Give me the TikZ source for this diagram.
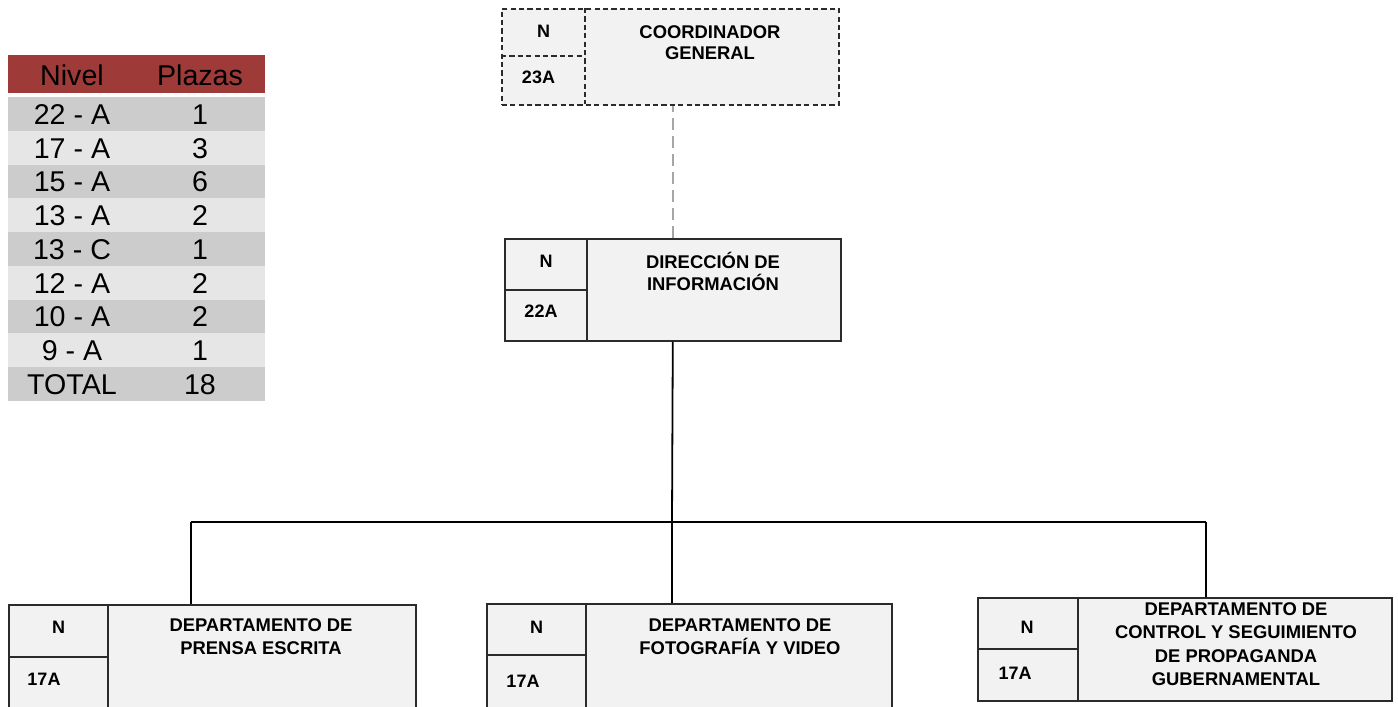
\documentclass[tikz,border=0pt]{standalone}
\usepackage{fontspec}
\setmainfont{Liberation Sans}
\definecolor{hdr}{HTML}{9E3A38}
\definecolor{rowd}{HTML}{CCCCCC}
\definecolor{rowl}{HTML}{E6E6E6}
\definecolor{boxfill}{HTML}{F2F2F2}
\definecolor{boxline}{HTML}{2B2B2B}
\definecolor{dashgray}{HTML}{A6A6A6}
\begin{document}
\begin{tikzpicture}[x=0.5pt,y=-0.5pt,
  box/.style={draw=boxline, fill=boxfill, line width=0.8pt, inner sep=0pt, anchor=north west, rectangle},
  dbox/.style={box, dash pattern=on 2.6pt off 1.6pt},
  divider/.style={draw=boxline, line width=0.8pt},
  ddivider/.style={divider, dash pattern=on 2.6pt off 1.6pt},
  lbl/.style={font=\bfseries\fontsize{9}{11}\selectfont, inner sep=0pt, anchor=base},
  ttl/.style={font=\bfseries\fontsize{9.2}{#1}\selectfont, inner sep=0pt, anchor=north, align=center},
  ttl/.default={11.75pt},
  tab/.style={font=\fontsize{14.3}{16}\selectfont, inner sep=0pt, anchor=base},
  conn/.style={draw=black, line width=0.9pt},
  dconn/.style={draw=dashgray, line width=0.9pt, dash pattern=on 6pt off 3pt}]
\useasboundingbox (0,0) rectangle (1398,707);

% ---------- table ----------
\fill[hdr] (8,55) rectangle (265,93);
\node[tab] (hN) at (72,85) {Nivel};
\node[tab] (hP) at (200,85) {Plazas};
\foreach \k/\a/\b in {0/22 - A/1,1/17 - A/3,2/15 - A/6,3/13 - A/2,4/13 - C/1,5/12 - A/2,6/10 - A/2,7/9 - A/1,8/TOTAL/18}{
  \pgfmathsetmacro{\yt}{97+33.75*\k}
  \pgfmathsetmacro{\yb}{97+33.75*(\k+1)}
  \pgfmathsetmacro{\ybase}{124.4+33.75*\k}
  \pgfmathparse{mod(\k,2)==0 ? 1 : 0}
  \ifnum\pgfmathresult=1
    \fill[rowd] (8,\yt) rectangle (265,\yb);
  \else
    \fill[rowl] (8,\yt) rectangle (265,\yb);
  \fi
  \node[tab] (n\k) at (72,\ybase) {\a};
  \node[tab] (p\k) at (200,\ybase) {\b};
}

% ---------- Coordinador general (dashed) ----------
\node[dbox, minimum width=168.5pt, minimum height=48pt] (coord) at (501,8) {};
\draw[ddivider] (585,8) -- (585,104);
\draw[ddivider] (501,56) -- (585,56);
\node[lbl] (coordN) at (543.5,37) {N};
\node[lbl] (coordL) at (538.5,83) {23A};
\node[ttl=10.5pt] (coordT) at (710,20) {\rule{0pt}{9pt}COORDINADOR\\GENERAL};

% ---------- Direccion de informacion ----------
\node[box, minimum width=168pt, minimum height=51pt] (dir) at (504,238) {};
\draw[divider] (587,238) -- (587,340);
\draw[divider] (504,290) -- (587,290);
\node[lbl] (dirN) at (546,267) {N};
\node[lbl] (dirL) at (541,317) {22A};
\node[ttl=11pt] (dirT) at (713,250) {\rule{0pt}{9pt}DIRECCIÓN DE\\INFORMACIÓN};

% ---------- Departamento prensa escrita ----------
\node[box, minimum width=203.5pt, minimum height=55pt] (d1) at (8,604) {};
\draw[divider] (108,604) -- (108,714);
\draw[divider] (8,657) -- (108,657);
\node[lbl] (d1N) at (58.5,633) {N};
\node[lbl] (d1L) at (44,685) {17A};
\node[ttl=11.75pt] (d1T) at (261,613) {\rule{0pt}{9pt}DEPARTAMENTO DE\\PRENSA ESCRITA};

% ---------- Departamento fotografia y video ----------
\node[box, minimum width=202.5pt, minimum height=55.5pt] (d2) at (486,603) {};
\draw[divider] (586,603) -- (586,714);
\draw[divider] (486,655) -- (586,655);
\node[lbl] (d2N) at (536.5,633) {N};
\node[lbl] (d2L) at (523,687) {17A};
\node[ttl=11.5pt] (d2T) at (740,613) {\rule{0pt}{9pt}DEPARTAMENTO DE\\FOTOGRAFÍA Y VIDEO};

% ---------- Departamento control y seguimiento ----------
\node[box, minimum width=207pt, minimum height=51.5pt] (d3) at (977,597) {};
\draw[divider] (1078,597) -- (1078,700);
\draw[divider] (977,649) -- (1078,649);
\node[lbl] (d3N) at (1027,633) {N};
\node[lbl] (d3L) at (1015,679) {17A};
\node[ttl=11.75pt] (d3T) at (1236,597) {\rule{0pt}{9pt}DEPARTAMENTO DE\\CONTROL Y SEGUIMIENTO\\DE PROPAGANDA\\GUBERNAMENTAL};

% ---------- connectors ----------
\coordinate (bus) at (672,522);
\coordinate (bl) at (191,522);
\coordinate (br) at (1206,522);
\draw[dconn] (dir.north) -- (dir.north |- coord.south);
\draw[conn] (dir.south) -- (bus);
\draw[conn] (bl) -- (br);
\draw[conn] (bl) -- (bl |- d1.north);
\draw[conn] (bus) -- (bus |- d2.north);
\draw[conn] (br) -- (br |- d3.north);
\end{tikzpicture}
\end{document}
